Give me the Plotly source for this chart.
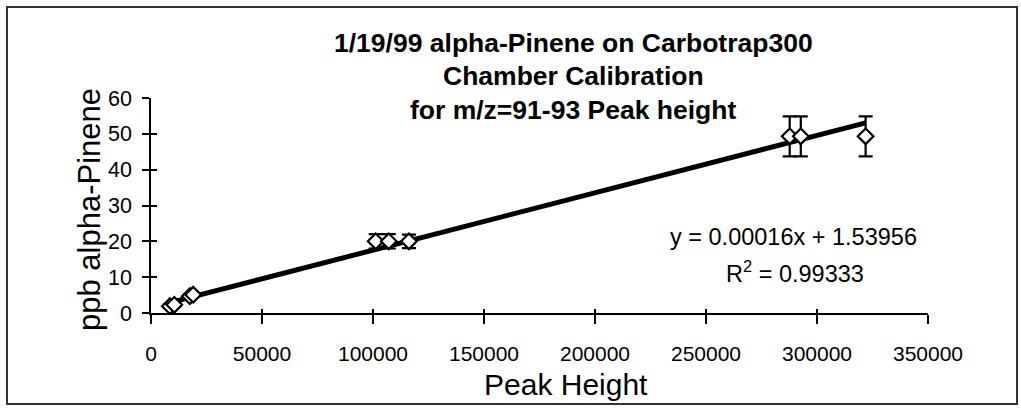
import plotly.graph_objects as go

# Calibration points: peak height vs. ppb alpha-Pinene, with error bars
peak_height = [8500, 10500, 17500, 19000, 101200, 107100, 116200, 287700, 292700, 321900]
ppb = [1.9, 2.3, 4.7, 5.1, 20.0, 20.0, 20.0, 49.3, 49.3, 49.3]
ppb_err = [0.5, 0.5, 0.5, 0.5, 2.0, 2.0, 1.9, 5.6, 5.6, 5.6]

# Linear fit reported on the chart
slope = 0.00016
intercept = 1.53956
r_squared = 0.99333

x_ticks = [0, 50000, 100000, 150000, 200000, 250000, 300000, 350000]
y_ticks = [0, 10, 20, 30, 40, 50, 60]

W, H = 1021, 410
L, R, T, B = 151, 93, 98, 97
PW, PH = W - L - R, H - T - B


def px(xp):
    return (xp - L) / PW


def py(yp):
    return (H - B - yp) / PH


FONT = "Arial, Liberation Sans, sans-serif"

fit_x = [min(peak_height), max(peak_height)]
fit_y = [slope * v + intercept for v in fit_x]

fig = go.Figure()
fig.add_trace(go.Scatter(
    x=fit_x, y=fit_y, mode="lines",
    line=dict(color="black", width=5),
    hoverinfo="skip", showlegend=False,
))
fig.add_trace(go.Scatter(
    x=peak_height, y=ppb, mode="markers",
    marker=dict(symbol="diamond", size=12, color="white",
                line=dict(color="black", width=2.2)),
    error_y=dict(type="data", array=ppb_err, visible=True,
                 color="black", thickness=2.2, width=7),
    showlegend=False,
))
# invisible copy on the overlay axes so their inward ticks are drawn
fig.add_trace(go.Scatter(
    x=peak_height, y=ppb, mode="markers", xaxis="x2", yaxis="y2",
    marker=dict(opacity=0), hoverinfo="skip", showlegend=False,
))

axis_common = dict(showgrid=False, zeroline=False, showline=True,
                   linecolor="black", tickcolor="black")

fig.update_layout(
    width=W, height=H,
    margin=dict(l=L, r=R, t=T, b=B),
    paper_bgcolor="white", plot_bgcolor="white",
    font=dict(family=FONT, color="black"),
    xaxis=dict(range=[0, 350000], tickvals=x_ticks,
               ticktext=[str(v) for v in x_ticks],
               ticks="outside", ticklen=9, tickwidth=1.5, linewidth=2,
               tickfont=dict(size=21, family=FONT, color="black"),
               ticklabelstandoff=12, **axis_common),
    yaxis=dict(range=[0, 60], tickvals=y_ticks,
               ticks="outside", ticklen=7, tickwidth=1.5, linewidth=1.5,
               tickfont=dict(size=21.5, family=FONT, color="black"),
               ticklabelstandoff=6, **axis_common),
    xaxis2=dict(range=[0, 350000], tickvals=x_ticks, overlaying="x",
                ticks="inside", ticklen=4, tickwidth=1.5,
                showticklabels=False, side="bottom", anchor="y2",
                **axis_common),
    yaxis2=dict(range=[0, 60], tickvals=y_ticks, overlaying="y",
                ticks="inside", ticklen=6, tickwidth=1.5,
                showticklabels=False, side="left", anchor="x2",
                **axis_common),
)

title_lines = [
    ("1/19/99 alpha-Pinene on Carbotrap300", 43),
    ("Chamber Calibration", 76),
    ("for m/z=91-93 Peak height", 110),
]
for text, yc in title_lines:
    fig.add_annotation(text=f"<b>{text}</b>", xref="paper", yref="paper",
                       x=px(573), y=py(yc), showarrow=False,
                       xanchor="center", yanchor="middle",
                       font=dict(size=26.5, family=FONT, color="black"))

fig.add_annotation(text="Peak Height", xref="paper", yref="paper",
                   x=px(566), y=py(384), showarrow=False,
                   xanchor="center", yanchor="middle",
                   font=dict(size=30, family=FONT, color="black"))
fig.add_annotation(text="ppb alpha-Pinene", xref="paper", yref="paper",
                   x=px(89), y=py(210), showarrow=False, textangle=-90,
                   xanchor="center", yanchor="middle",
                   font=dict(size=31, family=FONT, color="black"))

fig.add_annotation(text=f"y = {slope:.5f}x + {intercept:.5f}",
                   xref="paper", yref="paper", x=px(793), y=py(237),
                   showarrow=False, xanchor="center", yanchor="middle",
                   font=dict(size=23.5, family=FONT, color="black"))
fig.add_annotation(text=f"R<sup>2</sup> = {r_squared:.5f}",
                   xref="paper", yref="paper", x=px(795), y=py(272),
                   showarrow=False, xanchor="center", yanchor="middle",
                   font=dict(size=23.5, family=FONT, color="black"))

# chart frame
fig.add_shape(type="rect", xref="paper", yref="paper",
              x0=px(7), x1=px(1017), y0=py(404), y1=py(7),
              line=dict(color="#333333", width=2), layer="below")

fig.write_html("out.html")
